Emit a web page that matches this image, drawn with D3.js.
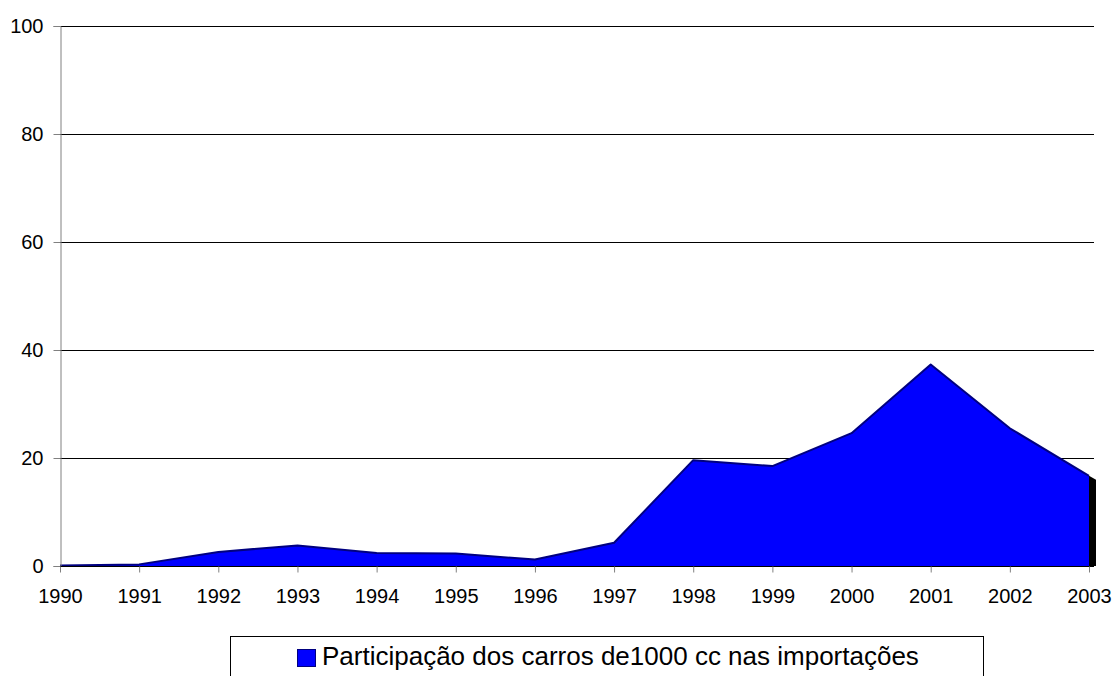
<!DOCTYPE html>
<html>
<head>
<meta charset="utf-8">
<script src="https://cdn.jsdelivr.net/npm/d3@7"></script>
<style>
  html, body { margin: 0; padding: 0; background: #ffffff; }
  svg { display: block; font-family: "Liberation Sans", Arial, sans-serif; }
</style>
</head>
<body>
<svg id="chart" width="1115" height="676"></svg>
<script>
// Share of 1000 cc cars in imports (%), 1990–2003
const years = [1990, 1991, 1992, 1993, 1994, 1995, 1996, 1997, 1998, 1999, 2000, 2001, 2002, 2003];
const shares = [0.1, 0.3, 2.6, 3.8, 2.4, 2.3, 1.2, 4.3, 19.6, 18.5, 24.6, 37.3, 25.5, 16.7];
const yTicks = [0, 20, 40, 60, 80, 100];
const seriesName = "Participação dos carros de1000 cc nas importações";

const data = years.map((yr, i) => ({ year: yr, value: shares[i] }));

const svg = d3.select("#chart");
const plotLeft = 60, plotRight = 1089, plotTop = 26, plotBottom = 566;

const x = d3.scalePoint().domain(years).range([plotLeft, plotRight]);
const y = d3.scaleLinear().domain([0, 100]).range([plotBottom, plotTop]);

// horizontal gridlines
svg.append("g")
  .selectAll("line")
  .data(yTicks.filter(t => t > 0))
  .join("line")
  .attr("x1", plotLeft).attr("x2", plotRight + 5)
  .attr("y1", t => Math.round(y(t)) + 0.5).attr("y2", t => Math.round(y(t)) + 0.5)
  .attr("stroke", "#000").attr("stroke-width", 1);

// side face at the end of the area
const last = data[data.length - 1];
const depth = 7;
svg.append("path")
  .attr("d", `M${x(last.year)},${y(last.value)} L${x(last.year) + depth},${y(last.value) + 4} L${x(last.year) + depth},${y(0)} L${x(last.year)},${y(0)} Z`)
  .attr("fill", "#000");

// area
const area = d3.area()
  .x(p => x(p.year))
  .y0(y(0))
  .y1(p => y(p.value));
svg.append("path")
  .datum(data)
  .attr("d", area)
  .attr("fill", "#0000ff");

const line = d3.line().x(p => x(p.year)).y(p => y(p.value));
svg.append("path")
  .datum(data)
  .attr("d", line)
  .attr("fill", "none")
  .attr("stroke", "#000080")
  .attr("stroke-width", 2)
  .attr("stroke-linejoin", "round");

// y axis
const yAxis = svg.append("g")
  .attr("transform", `translate(${plotLeft + 0.5},0)`)
  .call(d3.axisLeft(y).tickValues(yTicks).tickSize(7).tickPadding(10).tickFormat(d3.format("d")));
yAxis.select(".domain").attr("stroke", "#808080");
yAxis.selectAll(".tick line").attr("stroke", "#808080");
yAxis.selectAll("text").attr("fill", "#000").style("font-size", "20px");

// x axis
const xAxis = svg.append("g")
  .attr("transform", `translate(0,${plotBottom + 0.5})`)
  .call(d3.axisBottom(x).tickSize(6).tickPadding(16).tickFormat(d3.format("d")));
xAxis.select(".domain").attr("stroke", "#000").attr("d", `M${plotLeft},0H${plotRight + 5}`);
xAxis.selectAll(".tick line").attr("stroke", "#808080");
xAxis.selectAll("text").attr("fill", "#000").style("font-size", "20px");

// legend
const lg = svg.append("g");
lg.append("rect")
  .attr("x", 230.5).attr("y", 636.5).attr("width", 753).attr("height", 60)
  .attr("fill", "#fff").attr("stroke", "#000").attr("stroke-width", 1);
lg.append("rect")
  .attr("x", 297.5).attr("y", 649.5).attr("width", 18).attr("height", 17)
  .attr("fill", "#0000ff").attr("stroke", "#000080").attr("stroke-width", 1);
lg.append("text")
  .attr("x", 322).attr("y", 665)
  .style("font-size", "26px")
  .attr("fill", "#000")
  .text(seriesName);
</script>
</body>
</html>
